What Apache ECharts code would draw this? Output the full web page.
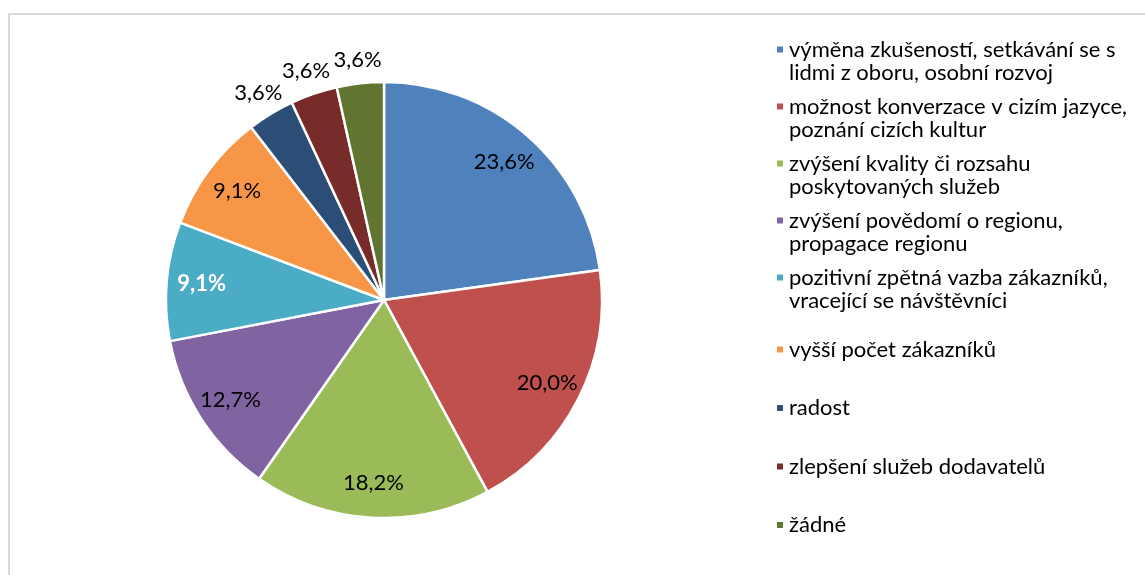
<!DOCTYPE html>
<html>
<head>
<meta charset="utf-8">
<script src="https://cdn.jsdelivr.net/npm/echarts@6/dist/echarts.min.js"></script>
<style>
html, body { margin: 0; padding: 0; background: #fff; }
#chart { width: 1145px; height: 575px; }
</style>
</head>
<body>
<div id="chart"></div>
<script>
// categories (legend text, wrapped like the original)
var categories = [
  'výměna zkušeností, setkávání se s\nlidmi z oboru, osobní rozvoj',
  'možnost konverzace v cizím jazyce,\npoznání cizích kultur',
  'zvýšení kvality či rozsahu\nposkytovaných služeb',
  'zvýšení povědomí o regionu,\npropagace regionu',
  'pozitivní zpětná vazba zákazníků,\nvracející se návštěvníci',
  'vyšší počet zákazníků',
  'radost',
  'zlepšení služeb dodavatelů',
  'žádné'
];
// shown percentages
var values = [23.6, 20.0, 18.2, 12.7, 9.1, 9.1, 3.6, 3.6, 3.6];
var colors = ['#4F81BD', '#C0504D', '#9BBB59', '#8064A2', '#4BACC6', '#F79646', '#2C4D75', '#772C2A', '#5F7530'];

var font = 'Lato, "Liberation Sans", sans-serif';
var center = [384, 300];

function pct (p) {
  return p.value.toFixed(1).replace('.', ',') + '%';
}

var chart = echarts.init(document.getElementById('chart'));

var legendText = { fontFamily: font, fontSize: 22, lineHeight: 23, color: '#000' };

var option = {
  animation: false,
  graphic: [{
    type: 'rect',
    silent: true,
    z: -10,
    shape: { x: 9, y: 14, width: 1300, height: 700 },
    style: { fill: 'none', stroke: '#d9d9d9', lineWidth: 2 }
  }],
  legend: [
    {
      // two-line entries: an empty first line keeps the marker on line one
      orient: 'vertical',
      left: 775,
      top: 15,
      padding: 0,
      itemGap: -12,
      itemWidth: 8,
      itemHeight: 8,
      icon: 'rect',
      selectedMode: false,
      data: categories.slice(0, 5),
      formatter: function (name) { return '\n' + name; },
      textStyle: legendText
    },
    {
      orient: 'vertical',
      left: 775,
      top: 338,
      padding: 0,
      itemGap: 35.5,
      itemWidth: 8,
      itemHeight: 8,
      icon: 'rect',
      selectedMode: false,
      data: categories.slice(5),
      textStyle: legendText
    }
  ],
  series: [
    {
      type: 'pie',
      center: center,
      radius: 218,
      startAngle: 90,
      clockwise: true,
      emphasis: { disabled: true },
      label: { show: false },
      labelLine: { show: false },
      itemStyle: { borderColor: '#fff', borderWidth: 2.5 },
      data: values.map(function (v, i) {
        return { name: categories[i], value: v, itemStyle: { color: colors[i] } };
      })
    },
    {
      // labels inside the bigger slices
      type: 'pie',
      center: center,
      radius: [142, 218],
      startAngle: 90,
      silent: true,
      avoidLabelOverlap: false,
      emphasis: { disabled: true },
      itemStyle: { color: 'transparent' },
      labelLine: { show: false },
      label: {
        show: true,
        position: 'inside',
        fontFamily: font,
        fontSize: 22,
        color: '#000',
        formatter: function (p) { return p.value > 5 ? pct(p) : ''; }
      },
      data: values.map(function (v, i) {
        var d = { name: categories[i], value: v };
        if (i === 4) d.label = { color: '#fff', fontWeight: 'bold' };
        return d;
      })
    },
    {
      // labels just outside the small slices
      type: 'pie',
      center: center,
      radius: [222, 256],
      startAngle: 90,
      silent: true,
      avoidLabelOverlap: false,
      emphasis: { disabled: true },
      itemStyle: { color: 'transparent' },
      labelLine: { show: false },
      label: {
        show: true,
        position: 'inside',
        fontFamily: font,
        fontSize: 22,
        color: '#000',
        formatter: function (p) { return p.value < 5 ? pct(p) : ''; }
      },
      data: values.map(function (v, i) {
        return { name: categories[i], value: v };
      })
    }
  ]
};

chart.setOption(option);
window.addEventListener('resize', function () { chart.resize(); });
</script>
</body>
</html>
